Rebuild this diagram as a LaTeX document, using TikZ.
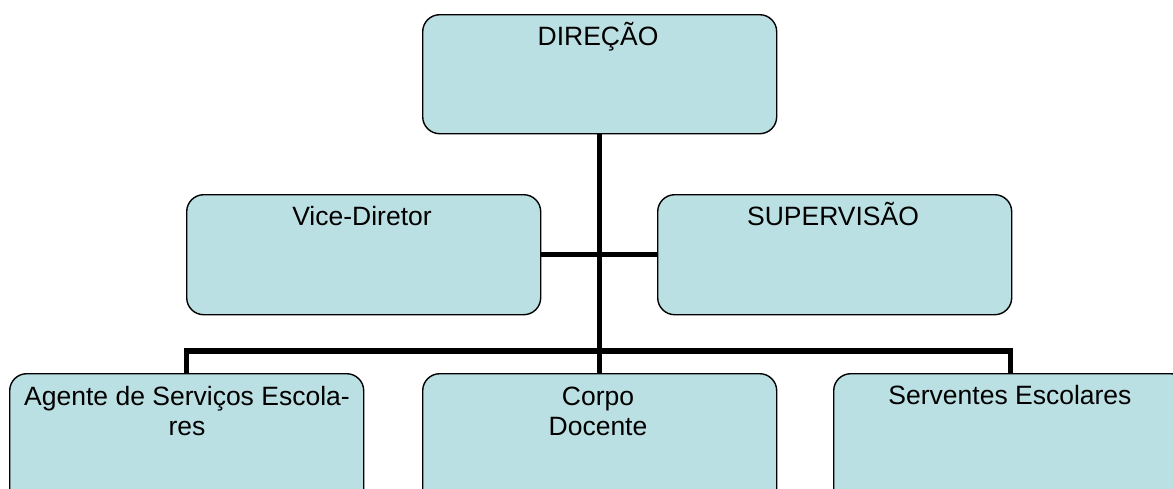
\documentclass[tikz,border=0pt]{standalone}
\usepackage{fontspec}
\setmainfont{Liberation Sans}
\definecolor{boxfill}{RGB}{187,224,227}
\begin{document}
\begin{tikzpicture}[x=1pt,y=-1pt,
  orgbox/.style={draw=black, line width=1.4pt, fill=boxfill, rounded corners=17pt,
    anchor=north west, inner sep=0pt, minimum width=354pt, minimum height=#1},
  orgbox/.default=120pt,
  lbl/.style={anchor=north, inner sep=0pt, align=center, text=black,
    font=\fontsize{26.5pt}{30pt}\selectfont},
  conn/.style={draw=black, line width=5.5pt}]
\useasboundingbox (0,0) rectangle (1173,488);
% boxes
\node[orgbox=119pt] (dir) at (422,14) {};
\node[orgbox] (vice) at (186,194) {};
\node[orgbox] (sup) at (657,194) {};
\node[orgbox=140pt] (agente) at (9,373) {};
\node[orgbox=140pt] (corpo) at (422,373) {};
\node[orgbox=140pt] (serv) at (833,373) {};
% labels
\node[lbl] (tdir) at (598,21) {\rule{0pt}{24pt}DIREÇÃO};
\node[lbl] (tvice) at (362,201) {\rule{0pt}{24pt}Vice-Diretor};
\node[lbl] (tsup) at (833,201) {\rule{0pt}{24pt}SUPERVISÃO};
\node[lbl] (tag) at (187,381) {\rule{0pt}{24pt}Agente de Serviços Escola-\\res};
\node[lbl] (tcorpo) at (598,381) {\rule{0pt}{24pt}Corpo\\Docente};
\node[lbl] (tserv) at (1010,380) {\rule{0pt}{24pt}Serventes Escolares};
% connectors
\coordinate (bar) at (598,351);
\draw[conn] (dir.south) -- (corpo.north);
\draw[conn] (vice.east) -- (sup.west);
\draw[conn] (agente.north) |- (bar) -| (serv.north);
\end{tikzpicture}
\end{document}
